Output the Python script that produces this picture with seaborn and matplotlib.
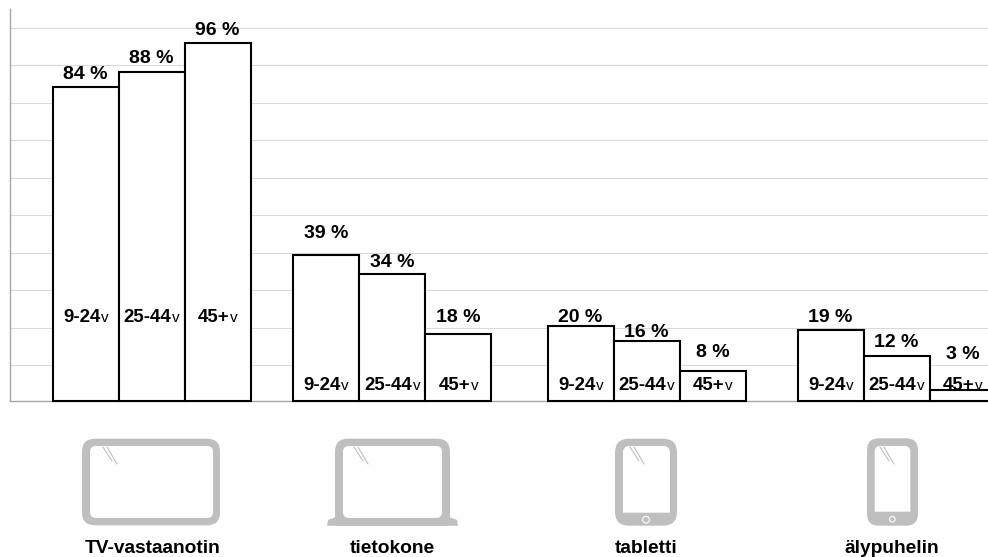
import matplotlib
matplotlib.use("Agg")
import matplotlib.pyplot as plt
from matplotlib.patches import Circle, FancyBboxPatch, PathPatch, Polygon, Rectangle
from matplotlib.path import Path
import numpy as np
import pandas as pd
import seaborn as sns

# Data
devices = ["TV-vastaanotin", "tietokone", "tabletti", "älypuhelin"]
age_groups = ["9-24", "25-44", "45+"]
tv_values = [84, 88, 96]
computer_values = [39, 34, 18]
tablet_values = [20, 16, 8]
phone_values = [19, 12, 3]

# Layout, in figure pixels; label rows are text baselines
W, H = 988, 557
AXES_LEFT, AXES_TOP, AXES_BOTTOM = 10.0, 9.0, 400.7
PX_PER_PERCENT = 3.73
GRID_STEP = 10.05
GROUP_CENTRES = [151.5, 392.0, 646.5, 896.5]
GROUP_WIDTH = 198.0
DEVICE_LABEL_X = [153, 392, 646, 892]
DEVICE_LABEL_BASELINE = 553
VALUE_LABEL_BASELINE = [[79.3, 63.3, 35.3], [238.3, 267.3, 322.3], [322.3, 337.3, 357.3], [322.3, 347.3, 359.3]]
AGE_LABEL_BASELINE = [322.3, 390, 390, 390]

ICON_GREY = "#bfbfbf"
GRID_GREY = "#d9d9d9"
SPINE_GREY = "#a6a6a6"

sns.set_style("white")
plt.rcParams["font.family"] = ["Liberation Sans", "DejaVu Sans"]
plt.rcParams["text.color"] = "black"

frame = pd.DataFrame(
    {
        "position": np.repeat(GROUP_CENTRES, len(age_groups)),
        "age": age_groups * len(devices),
        "share": tv_values + computer_values + tablet_values + phone_values,
    }
)

fig = plt.figure(figsize=(W / 100, H / 100), dpi=100, facecolor="white")
ax = fig.add_axes(
    [
        AXES_LEFT / W,
        1 - AXES_BOTTOM / H,
        (W - AXES_LEFT) / W,
        (AXES_BOTTOM - AXES_TOP) / H,
    ]
)

min_gap = np.diff(GROUP_CENTRES).min()
sns.barplot(
    data=frame,
    x="position",
    y="share",
    hue="age",
    hue_order=age_groups,
    native_scale=True,
    width=GROUP_WIDTH / min_gap,
    gap=0,
    palette=["white"] * 3,
    saturation=1,
    edgecolor="black",
    linewidth=1.5,
    errorbar=None,
    legend=False,
    ax=ax,
)

ax.set_xlim(AXES_LEFT, W)
ax.set_ylim(0, (AXES_BOTTOM - AXES_TOP) / PX_PER_PERCENT)
ax.set_yticks(100 - GRID_STEP * np.arange(10))
ax.set_xticks([])
ax.set_yticklabels([])
ax.set_xlabel("")
ax.set_ylabel("")
ax.tick_params(length=0)
ax.grid(axis="y", color=GRID_GREY, linewidth=0.8)
ax.set_axisbelow(True)
sns.despine(ax=ax, top=True, right=True)
for side in ("left", "bottom"):
    ax.spines[side].set_color(SPINE_GREY)
    ax.spines[side].set_linewidth(1.0)

bars = sorted([p for p in ax.patches if p.get_height() > 0], key=lambda p: p.get_x())
for bar in bars:
    bar.set_clip_on(False)
    bar.set_zorder(3)

# Overlay in pixel coordinates for annotations and device icons
overlay = fig.add_axes([0, 0, 1, 1], facecolor="none")
overlay.set_xlim(0, W)
overlay.set_ylim(H, 0)
overlay.axis("off")

renderer = fig.canvas.get_renderer()


def age_label(cx, y, age):
    bold = overlay.text(0, y, age, fontsize=13.4, fontweight="bold", va="baseline", ha="left")
    unit = overlay.text(0, y, "v", fontsize=11, va="baseline", ha="left")
    bold_w = bold.get_window_extent(renderer).width
    unit_w = unit.get_window_extent(renderer).width
    left = cx - (bold_w + unit_w) / 2
    bold.set_x(left)
    unit.set_x(left + bold_w + 0.5)


series = [tv_values, computer_values, tablet_values, phone_values]
for g, values in enumerate(series):
    for a, value in enumerate(values):
        bar = bars[g * len(age_groups) + a]
        cx = bar.get_x() + bar.get_width() / 2
        overlay.text(
            cx, VALUE_LABEL_BASELINE[g][a], f"{value} %",
            fontsize=14, fontweight="bold", ha="center", va="baseline",
        )
        age_label(cx, AGE_LABEL_BASELINE[g], age_groups[a])
    overlay.text(
        DEVICE_LABEL_X[g], DEVICE_LABEL_BASELINE, devices[g],
        fontsize=13.8, fontweight="bold", ha="center", va="baseline",
    )


def rounded(x0, y0, x1, y1, r, color):
    overlay.add_patch(
        FancyBboxPatch(
            (x0 + r, y0 + r), x1 - x0 - 2 * r, y1 - y0 - 2 * r,
            boxstyle=f"round,pad={r},rounding_size={r}",
            facecolor=color, edgecolor="none",
        )
    )


def glare(x, y):
    overlay.plot([x, x + 9], [y, y + 14], color=ICON_GREY, lw=0.8)
    overlay.plot([x + 4, x + 14], [y, y + 17], color=ICON_GREY, lw=0.8)


def top_rounded_screen(x0, y0, x1, y1, r):
    k = 0.45 * r
    verts = [
        (x0, y1), (x0, y0 + r), (x0, y0 + k), (x0 + k, y0), (x0 + r, y0),
        (x1 - r, y0), (x1 - k, y0), (x1, y0 + k), (x1, y0 + r), (x1, y1), (x0, y1),
    ]
    codes = [
        Path.MOVETO, Path.LINETO, Path.CURVE4, Path.CURVE4, Path.CURVE4,
        Path.LINETO, Path.CURVE4, Path.CURVE4, Path.CURVE4, Path.LINETO, Path.CLOSEPOLY,
    ]
    overlay.add_patch(PathPatch(Path(verts, codes), facecolor="white", edgecolor="none"))


# Television
rounded(82, 438.7, 220, 525.3, 13, ICON_GREY)
rounded(90, 446, 213, 518, 6, "white")
glare(103, 447)

# Laptop
rounded(335, 438.7, 450, 530, 13, ICON_GREY)
overlay.add_patch(Rectangle((320, 526), 145, 10, facecolor="white", edgecolor="none"))
overlay.add_patch(
    Polygon(
        [(327, 525.8), (328, 520), (336, 517), (449, 517), (457, 520), (458, 525.8)],
        facecolor=ICON_GREY, edgecolor="none",
    )
)
rounded(343, 446, 442, 518, 6, "white")
glare(354, 447)

# Tablet
rounded(615, 438.7, 677, 525.7, 14, ICON_GREY)
top_rounded_screen(623, 446, 670, 512.7, 6)
overlay.add_patch(Circle((646, 519.7), 3.4, facecolor="none", edgecolor="white", lw=0.8))
glare(630, 447)

# Smartphone
rounded(867, 438.3, 918, 525.7, 12, ICON_GREY)
top_rounded_screen(874.7, 446, 910.3, 511.7, 5)
overlay.add_patch(Circle((892.3, 519.3), 2.8, facecolor="none", edgecolor="white", lw=0.8))
glare(880, 447)

fig.savefig("out.png", dpi=100)
